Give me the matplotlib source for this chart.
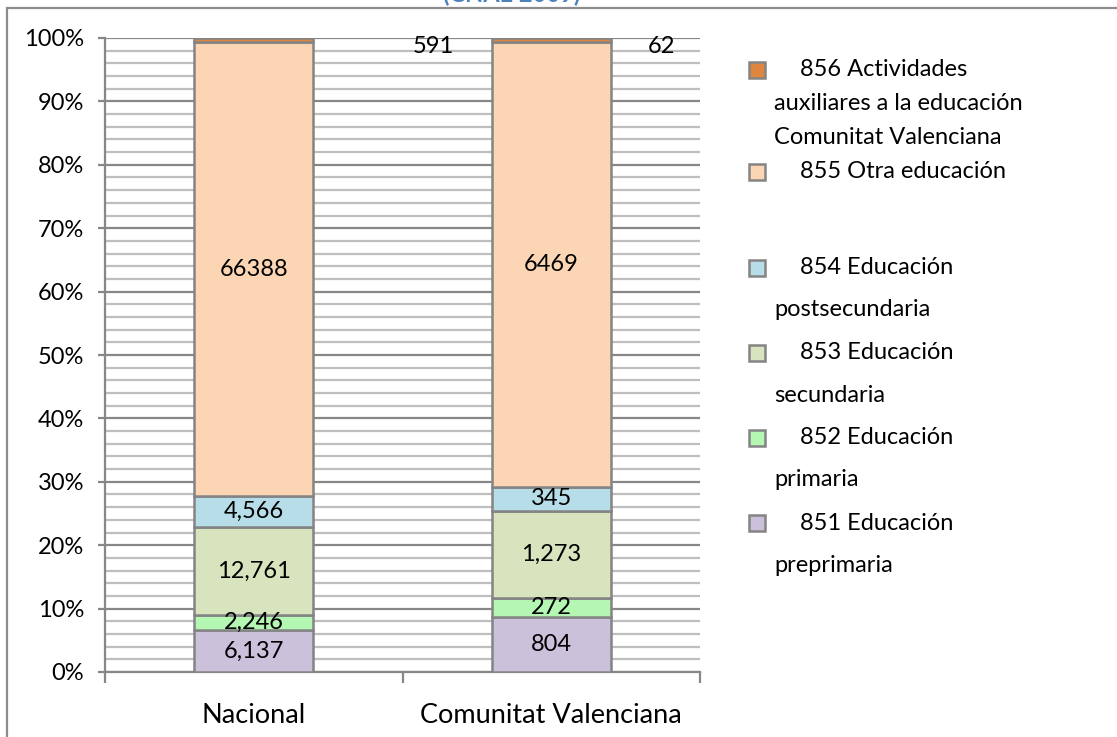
import matplotlib
matplotlib.use("Agg")
import matplotlib.pyplot as plt
from matplotlib.patches import Rectangle
from matplotlib.ticker import MultipleLocator, PercentFormatter
import numpy as np

plt.rcParams['font.family'] = ['Lato', 'DejaVu Sans']

categories = ["Nacional", "Comunitat Valenciana"]
series_names = ["851 Educación preprimaria", "852 Educación primaria",
                "853 Educación secundaria", "854 Educación postsecundaria",
                "855 Otra educación",
                "856 Actividades auxiliares a la educación Comunitat Valenciana"]
v851 = [6137, 804]
v852 = [2246, 272]
v853 = [12761, 1273]
v854 = [4566, 345]
v855 = [66388, 6469]
v856 = [591, 62]
values = [v851, v852, v853, v854, v855, v856]
colors = ["#CCC1DA", "#B3F7B3", "#D7E4BD", "#B7DEE8", "#FCD5B5", "#E0853D"]
label_fmt = ["{:,}", "{:,}", "{:,}", "{:,}", "{}", "{}"]
legend_lines = [
    ["851 Educación", "preprimaria"],
    ["852 Educación", "primaria"],
    ["853 Educación", "secundaria"],
    ["854 Educación", "postsecundaria"],
    ["855 Otra educación"],
    ["856 Actividades", "auxiliares a la educación", "Comunitat Valenciana"],
]

W, H = 1117, 737
fig = plt.figure(figsize=(W / 100, H / 100), dpi=100)
ax = fig.add_axes([105 / W, 1 - 672 / H, 595 / W, 634 / H])

data = np.array(values, dtype=float)
totals = data.sum(axis=0)
pct = data / totals * 100
x = np.arange(len(categories))
bottom = np.zeros(len(categories))
bw = 0.4
fs = 17
fsx = 19.5
for i in range(len(values)):
    ax.bar(x, pct[i], bw, bottom=bottom, color=colors[i], edgecolor="#848484",
           linewidth=1.8, zorder=3)
    if i < 5:
        for j in range(len(categories)):
            ax.text(x[j], bottom[j] + pct[i][j] / 2, label_fmt[i].format(values[i][j]),
                    ha="center", va="center", fontsize=fs, zorder=4)
    bottom += pct[i]

# 856 labels placed beside the bar tops
offsets_px = [180, 110]
for j in range(len(categories)):
    ax.annotate(label_fmt[5].format(values[5][j]), xy=(x[j], 100), xytext=(offsets_px[j] * 0.72, -6),
                textcoords="offset points", ha="center", va="center", fontsize=fs, zorder=4)

ax.set_xlim(-0.5, 1.5)
ax.set_ylim(0, 100)
ax.yaxis.set_major_locator(MultipleLocator(10))
ax.yaxis.set_minor_locator(MultipleLocator(2))
ax.yaxis.set_major_formatter(PercentFormatter(decimals=0))
ax.grid(axis="y", which="major", color="#878787", linewidth=1.6, zorder=0)
ax.grid(axis="y", which="minor", color="#BEBEBE", linewidth=1.6, zorder=0)
ax.set_axisbelow(True)
ax.tick_params(axis="y", which="major", length=5, width=1.6, color="#878787", labelsize=fs, pad=10)
ax.tick_params(axis="y", which="minor", length=0)

ax.set_xticks([-0.5, 0.5, 1.5])
ax.set_xticklabels([])
ax.set_xticks(x, minor=True)
ax.set_xticklabels(categories, minor=True)
ax.tick_params(axis="x", which="major", length=8, width=1.6, color="#878787", direction="out")
ax.tick_params(axis="x", which="minor", length=0, labelsize=fsx, pad=22)

for s in ["top", "right"]:
    ax.spines[s].set_visible(False)
for s in ["left", "bottom"]:
    ax.spines[s].set_color("#878787")
    ax.spines[s].set_linewidth(1.6)

# Legend drawn manually
leg_first_y = [523, 438, 353, 268, 172, 70]
for i in range(len(values)):
    yc = leg_first_y[i]
    step = 34 if i == 5 else 42
    fig.patches.append(Rectangle((749 / W, 1 - (yc + 8) / H), 16 / W, 16 / H,
                                 transform=fig.transFigure, facecolor=colors[i],
                                 edgecolor="#848484", linewidth=1.8))
    for k, line in enumerate(legend_lines[i]):
        xs = 800 if k == 0 else 774
        fig.text(xs / W, 1 - (yc + k * step) / H, line,
                 ha="left", va="center", fontsize=fs)

# outer chart frame
fig.patches.append(Rectangle((7 / W, -0.05), 1.2, 1 - 8 / H + 0.05, transform=fig.transFigure,
                             facecolor="none", edgecolor="#8C8C8C", linewidth=1.6))
# truncated title (cut off at the top in the original as well)
fig.text(512 / W, 1 - 6 / H, "(CNAE 2009)", ha="center", va="bottom", fontsize=17,
         fontweight="bold", color="#4F81BD")

fig.savefig("out.png", dpi=100)
